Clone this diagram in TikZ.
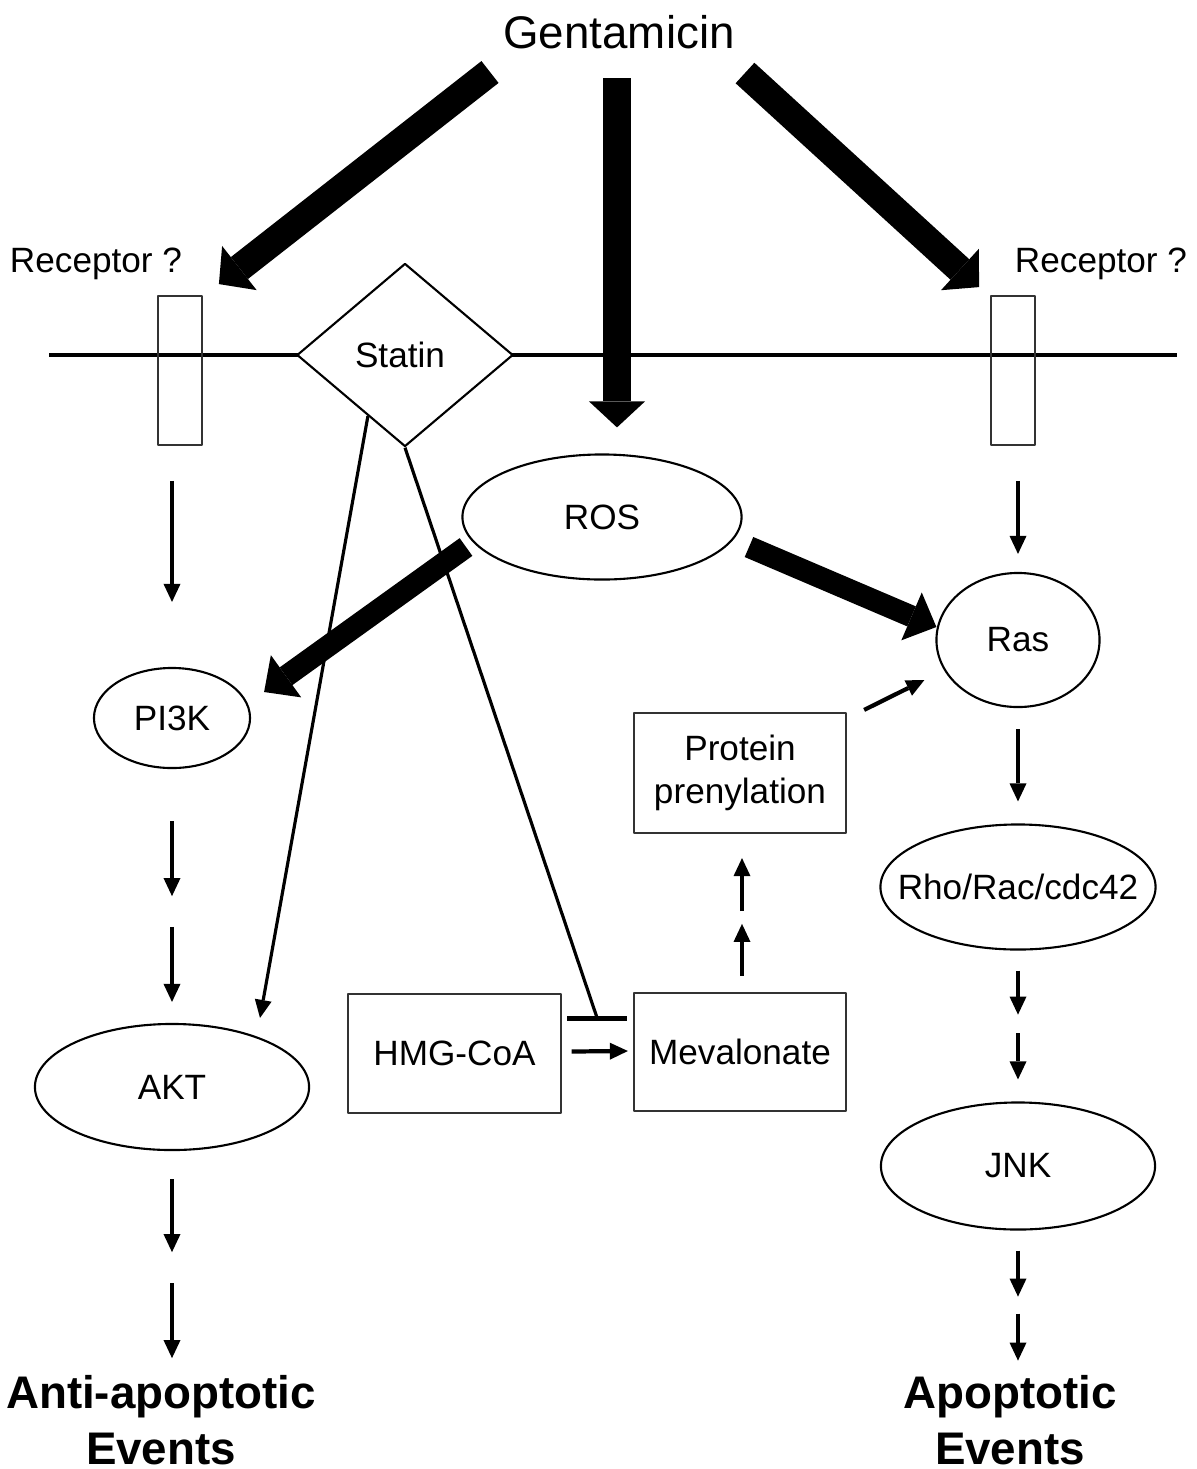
\documentclass[tikz,border=0pt]{standalone}
\usepackage{fontspec}
\setmainfont{Liberation Sans}
\usetikzlibrary{shapes.geometric,arrows.meta,calc}

\begin{document}
\begin{tikzpicture}[x=0.01cm, y=-0.01cm, font=\fontsize{10}{12.2}\selectfont, line join=round,
	box/.style={draw=black!80, line width=0.6pt, minimum width=2.12cm, minimum height=1.19cm, inner sep=0pt, align=center},
	oval/.style={draw, ellipse, line width=0.6pt, inner sep=0pt},
	recbox/.style={draw=black!80, line width=0.5pt, minimum width=0.44cm, minimum height=1.49cm, inner sep=0pt},
	bigarr/.style={line width=7.9pt, -{Triangle[length=0.26cm, width=0.56cm, line width=0pt]}},
	rosarr/.style={line width=6.2pt, -{Triangle[length=0.27cm, width=0.52cm, line width=0pt]}},
	arr/.style={line width=1.2pt, -{Triangle[length=0.18cm, width=0.17cm, line width=0pt]}},
	evt/.style={font=\fontsize{13}{15.9}\selectfont\bfseries, align=center, inner sep=0pt}]
	\useasboundingbox (0,0) rectangle (1197,1469);
	\def \mem{355}
	% membrane
	\draw[line width=1.4pt] (49,\mem) -- (1177,\mem);
	\node[inner sep=0pt, font=\fontsize{13}{15}\selectfont] (genta) at (619,32) {Gentamicin};
	\node[inner sep=0pt] (recLt) at (96,264) {Receptor ?};
	\node[inner sep=0pt] (recRt) at (1101,264) {Receptor ?};
	\node[recbox] (recL) at (180,370.5) {};
	\node[recbox] (recR) at (1013,370.5) {};
	\node[draw, diamond, fill=white, line width=0.6pt, minimum width=2.16cm, minimum height=1.83cm, inner sep=0pt] (statin) at (405,\mem) {\kern-0.1cm Statin};
	\node[oval, minimum width=2.79cm, minimum height=1.25cm] (ros) at (602,517) {ROS};
	\node[oval, minimum width=1.63cm, minimum height=1.34cm] (ras) at (1018,640) {Ras};
	\node[oval, minimum width=1.56cm, minimum height=1.0cm] (pik) at (172,718) {PI3K};
	\node[oval, minimum width=2.74cm, minimum height=1.26cm] (akt) at (172,1087) {AKT};
	\node[oval, minimum width=2.75cm, minimum height=1.25cm] (rho) at (1018,887) {\makebox[0pt]{Rho/Rac/cdc42}};
	\node[oval, minimum width=2.74cm, minimum height=1.27cm] (jnk) at (1018,1166) {JNK};
	\node[box, minimum height=1.2cm] (prot) at (740,773) {Protein\\prenylation};
	\node[box] (hmg) at (454.5,1053.5) {HMG-CoA};
	\node[box, minimum height=1.18cm] (mev) at (740,1052) {Mevalonate};
	\node[evt] (anti) at (161,1420) {Anti-apoptotic\\Events};
	\node[evt] (apo) at (1010,1420) {Apoptotic\\Events};
	% Gentamicin
	\draw[bigarr] ($(genta)+(-129,40)$) -- ($(recL.north east)+(16,-11)$);
	\draw[bigarr] ($(genta)+(-2,46)$) -- ($(ros.north)+(15,-26)$);
	\draw[bigarr] ($(genta)+(126,41)$) -- ($(recR.north west)+(-11,-8)$);
	% ROS
	\draw[rosarr] ($(ros)+(-136,30)$) -- ($(pik.east)+(13,-26)$);
	\draw[rosarr] ($(ros)+(147,30)$) -- ($(ras.west)+(1,-13)$);
	% left column
	\draw[arr] ($(recL.south -| pik)+(0,35)$) -- ($(pik.north)+(0,-65)$);
	\draw[arr] ($(pik.south)+(0,52)$) -- ($(pik.south)+(0,127)$);
	\draw[arr] ($(akt.north)+(0,-96)$) -- ($(akt.north)+(0,-21)$);
	\draw[arr] ($(akt.south)+(0,28)$) -- ($(akt.south)+(0,101)$);
	\draw[arr] ($(akt.south)+(0,132)$) -- ($(akt.south)+(0,207)$);
	% right column
	\draw[arr] ($(recR.south -| ras)+(0,35)$) -- ($(ras.north)+(0,-18)$);
	\draw[arr] ($(ras.south)+(0,21)$) -- ($(rho.north)+(0,-22)$);
	\draw[arr] ($(rho.south)+(0,20)$) -- ($(rho.south)+(0,64)$);
	\draw[arr] ($(jnk.north)+(0,-68)$) -- ($(jnk.north)+(0,-22)$);
	\draw[arr] ($(jnk.south)+(0,20)$) -- ($(jnk.south)+(0,66)$);
	\draw[arr] ($(jnk.south)+(0,83)$) -- ($(jnk.south)+(0,130)$);
	% mevalonate pathway
	\draw[arr] ($(mev.north)+(2,-16)$) -- ($(mev.north)+(2,-68)$);
	\draw[arr] ($(prot.south)+(2,77)$) -- ($(prot.south)+(2,24)$);
	\draw[arr] ($(hmg.east)+(10,-2)$) -- ($(mev.west)+(-5,-1)$);
	\draw[arr] ($(prot.north east)+(17,-2)$) -- ($(ras.west)+(-11,40)$);
	% statin
	\draw[arr, line width=0.9pt] ($(statin.west)!0.66!(statin.south)$) -- ($(akt.north)+(88,-5)$);
	\coordinate (tb) at ($(hmg.north east)!0.5!(mev.north west)+(0,26)$);
	\draw[line width=0.9pt] (statin.south) -- (tb);
	\draw[line width=1.4pt] ($(tb)+(-30,0)$) -- ($(tb)+(30,0)$);
\end{tikzpicture}
\end{document}
